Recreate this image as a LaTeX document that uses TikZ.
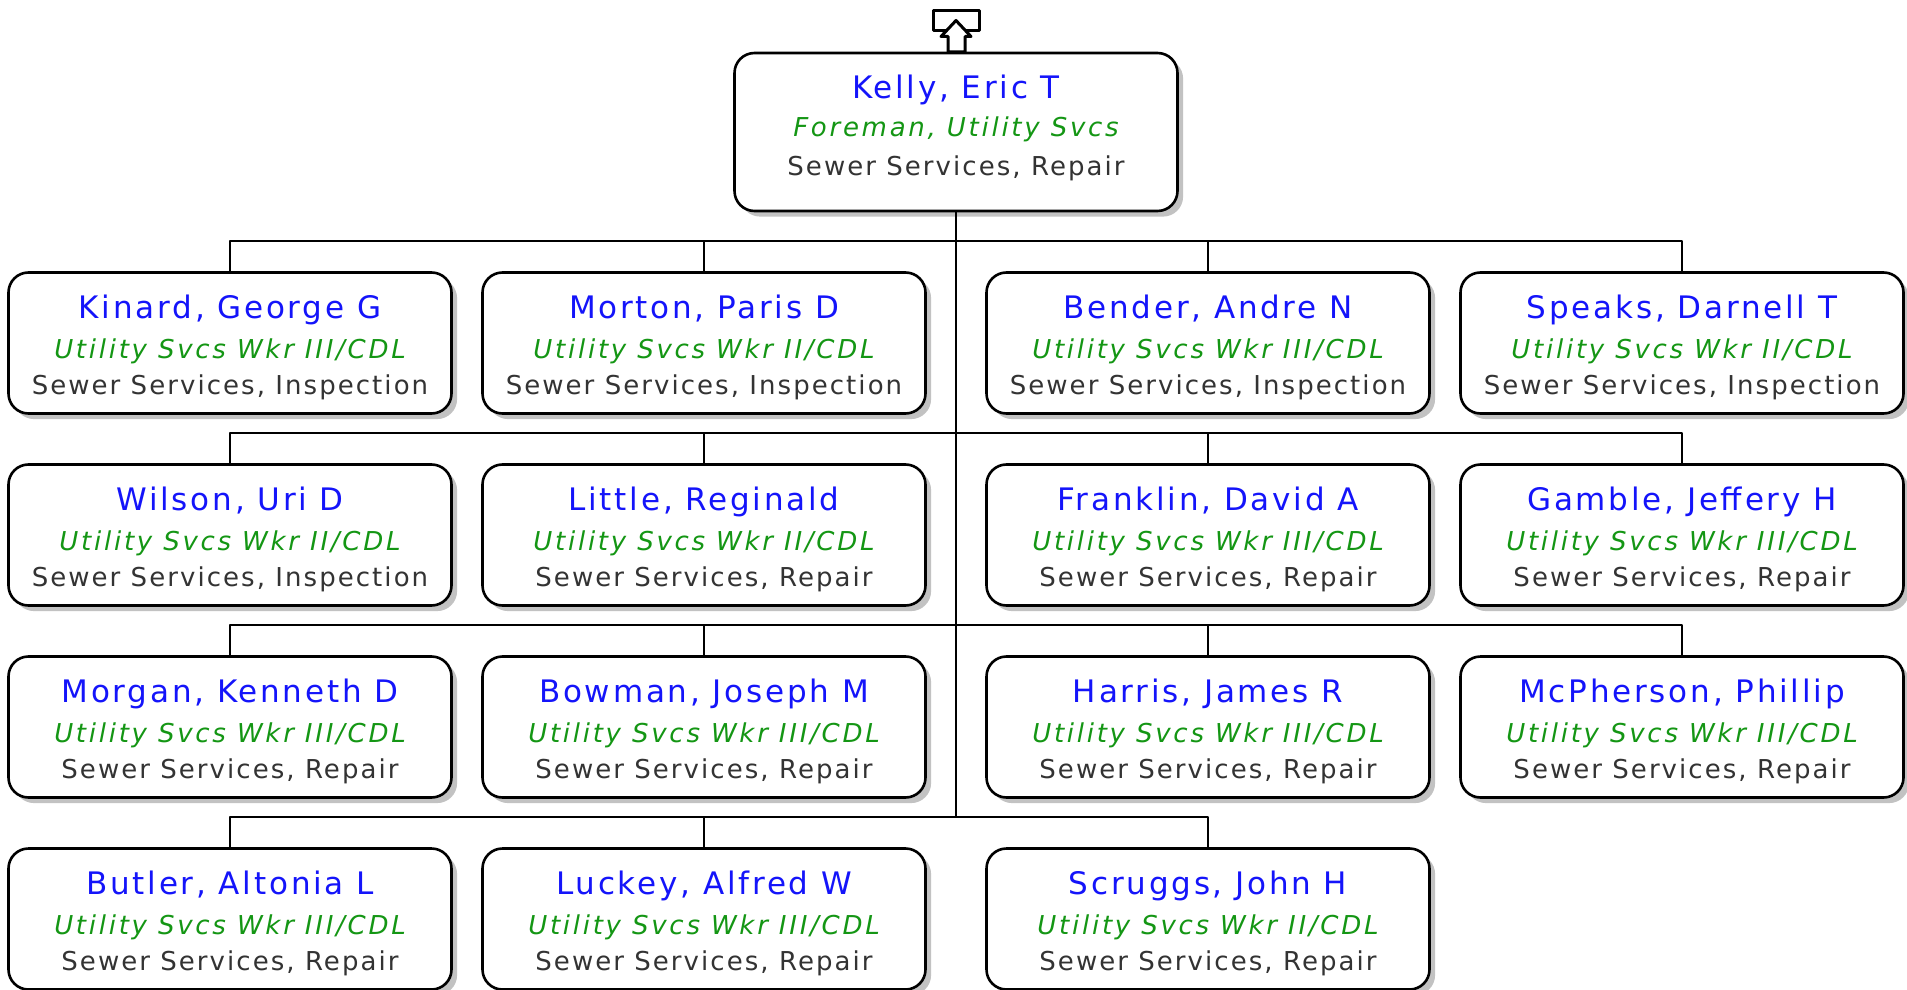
\documentclass[tikz,border=0pt]{standalone}
\usepackage{fontspec}
\newfontfamily\namefont{DejaVu Sans}[LetterSpace=9]
\newfontfamily\titlefont{DejaVu Sans}[LetterSpace=10.5]
\newfontfamily\deptfont{DejaVu Sans}[LetterSpace=7.9]
\usetikzlibrary{shadows}

\definecolor{namecol}{RGB}{20,20,250}
\definecolor{titlecol}{RGB}{20,150,20}
\definecolor{deptcol}{RGB}{51,51,51}

% name / job title / unit, one line each
\newcommand{\card}[3]{%
  {\rule{0pt}{16.2pt}\namefont\fontsize{15.5}{18}\selectfont\color{namecol}#1}\\[2.35pt]%
  {\titlefont\itshape\color{titlecol}#2}\\%
  {\color{deptcol}#3}}

\begin{document}
\begin{tikzpicture}[
  x=0.5pt, y=-0.5pt,
  line join=round,
  staff/.style={draw,line width=1.3pt,rounded corners=10pt,fill=white,
    minimum width=221.5pt,minimum height=70.5pt,inner sep=0pt,align=center,
    font=\deptfont\fontsize{13}{18}\selectfont,
    drop shadow={shadow xshift=2.8pt,shadow yshift=-2.8pt,fill=black!24,opacity=1}},
  boss/.style={staff,minimum height=79pt},
  bus/.style={line width=1.1pt},
  icon/.style={line width=1.5pt,fill=white}
]
\useasboundingbox (0,0) rectangle (1907,990);

% ------------------------------------------------------------------
% Foreman
% ------------------------------------------------------------------
\node[boss] (kelly) at (956,132)
  {{\namefont\fontsize{15.5}{18}\selectfont\color{namecol}Kelly, Eric T}\\[0.85pt]%
   {\titlefont\itshape\color{titlecol}Foreman, Utility Svcs}\\[1.35pt]%
   {\color{deptcol}Sewer Services, Repair\rule[-6.6pt]{0pt}{6.6pt}}};

% up-link marker above the top box
\draw[icon] (933,11) rectangle (979,31);
\draw[icon] (956,20.5) -- (971,36.5) -- (965,36.5) -- (965,52)
  -- (948,52) -- (948,36.5) -- (941,36.5) -- cycle;

% ------------------------------------------------------------------
% Crew, four rows
% ------------------------------------------------------------------
\node[staff] (kinard) at (230,343)
  {\card{Kinard, George G}{Utility Svcs Wkr III/CDL}{Sewer Services, Inspection}};
\node[staff] (morton) at (704,343)
  {\card{Morton, Paris D}{Utility Svcs Wkr II/CDL}{Sewer Services, Inspection}};
\node[staff] (bender) at (1208,343)
  {\card{Bender, Andre N}{Utility Svcs Wkr III/CDL}{Sewer Services, Inspection}};
\node[staff] (speaks) at (1682,343)
  {\card{Speaks, Darnell T}{Utility Svcs Wkr II/CDL}{Sewer Services, Inspection}};

\node[staff] (wilson) at (230,535)
  {\card{Wilson, Uri D}{Utility Svcs Wkr II/CDL}{Sewer Services, Inspection}};
\node[staff] (little) at (704,535)
  {\card{Little, Reginald}{Utility Svcs Wkr II/CDL}{Sewer Services, Repair}};
\node[staff] (franklin) at (1208,535)
  {\card{Franklin, David A}{Utility Svcs Wkr III/CDL}{Sewer Services, Repair}};
\node[staff] (gamble) at (1682,535)
  {\card{Gamble, Jeffery H}{Utility Svcs Wkr III/CDL}{Sewer Services, Repair}};

\node[staff] (morgan) at (230,727)
  {\card{Morgan, Kenneth D}{Utility Svcs Wkr III/CDL}{Sewer Services, Repair}};
\node[staff] (bowman) at (704,727)
  {\card{Bowman, Joseph M}{Utility Svcs Wkr III/CDL}{Sewer Services, Repair}};
\node[staff] (harris) at (1208,727)
  {\card{Harris, James R}{Utility Svcs Wkr III/CDL}{Sewer Services, Repair}};
\node[staff] (mcpherson) at (1682,727)
  {\card{McPherson, Phillip}{Utility Svcs Wkr III/CDL}{Sewer Services, Repair}};

\node[staff] (butler) at (230,919)
  {\card{Butler, Altonia L}{Utility Svcs Wkr III/CDL}{Sewer Services, Repair}};
\node[staff] (luckey) at (704,919)
  {\card{Luckey, Alfred W}{Utility Svcs Wkr III/CDL}{Sewer Services, Repair}};
\node[staff] (scruggs) at (1208,919)
  {\card{Scruggs, John H}{Utility Svcs Wkr II/CDL}{Sewer Services, Repair}};

% ------------------------------------------------------------------
% Reporting lines
% ------------------------------------------------------------------
\coordinate (b1) at (956,241);
\coordinate (b2) at (956,433);
\coordinate (b3) at (956,625);
\coordinate (b4) at (956,817);

\draw[bus] (kelly.south) -- (b4);

\draw[bus] (kinard.north) |- (b1) -| (speaks.north);
\draw[bus] (b1 -| morton.north) -- (morton.north);
\draw[bus] (b1 -| bender.north) -- (bender.north);

\draw[bus] (wilson.north) |- (b2) -| (gamble.north);
\draw[bus] (b2 -| little.north) -- (little.north);
\draw[bus] (b2 -| franklin.north) -- (franklin.north);

\draw[bus] (morgan.north) |- (b3) -| (mcpherson.north);
\draw[bus] (b3 -| bowman.north) -- (bowman.north);
\draw[bus] (b3 -| harris.north) -- (harris.north);

\draw[bus] (butler.north) |- (b4) -| (scruggs.north);
\draw[bus] (b4 -| luckey.north) -- (luckey.north);

\end{tikzpicture}
\end{document}
